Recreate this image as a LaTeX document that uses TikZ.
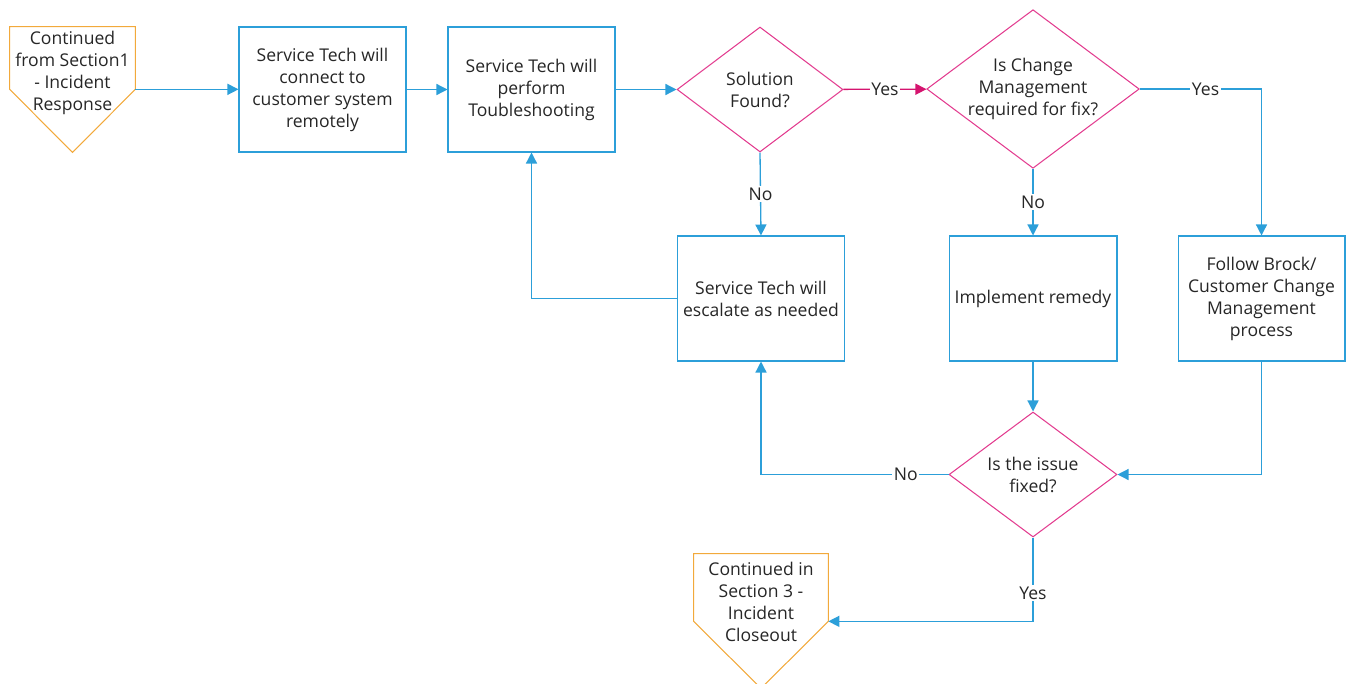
\documentclass[tikz,border=0pt]{standalone}
\usepackage{fontspec}
\setmainfont{Open Sans}
\usetikzlibrary{shapes.geometric,arrows.meta,calc}
\definecolor{cblue}{HTML}{2C9FD9}
\definecolor{cmag}{HTML}{E23C8F}
\definecolor{cmagd}{HTML}{D5146F}
\definecolor{corange}{HTML}{F2A93B}
\definecolor{ctext}{HTML}{262626}
\begin{document}
\begin{tikzpicture}[x=0.02cm,y=-0.02cm,
  font=\fontsize{10}{12.5}\selectfont, text=ctext,
  box/.style={draw=cblue, line width=0.6pt, minimum width=3.34cm, minimum height=2.5cm, align=center, inner sep=0pt},
  dia/.style={diamond, draw=cmag, line width=0.6pt, align=center, inner sep=0pt},
  conn/.style={draw=cblue, line width=0.75pt, -{Triangle[length=0.22cm,width=0.22cm]}},
  lbl/.style={fill=white, inner sep=1pt},
  pent/.style={minimum width=2.5cm, minimum height=1.24cm, inner sep=0pt},
  txt/.style={align=center, inner sep=0pt}]
\useasboundingbox (0,0) rectangle (1348,683);

% start pentagon
\node[pent] (p1) at (72.5,58) {};
\draw[corange, line width=0.6pt] (p1.north west) -- (p1.north east) -- (p1.south east)
  -- ($(p1.south)+(0,63)$) -- (p1.south west) -- cycle;
\node[txt] (p1t) at (72.5,73) {Continued\\from Section1\\- Incident\\Response};

\node[box] (b1) at (322.5,89.5) {Service Tech will\\connect to\\customer system\\remotely};
\node[box] (b2) at (531.5,89.5) {Service Tech will\\perform\\Toubleshooting};
\node[dia, minimum width=3.32cm, minimum height=2.5cm, aspect=1.33] (d1) at (760,89.5) {Solution\\Found?};
\node[dia, minimum width=4.24cm, minimum height=3.16cm, aspect=1.34] (d2) at (1033,89) {Is Change\\Management\\required for fix?};
\node[box] (esc) at (761,298.5) {Service Tech will\\escalate as needed};
\node[box, minimum width=3.36cm] (im) at (1033,298.5) {Implement remedy};
\node[box] (fb) at (1261.5,298.5) {Follow Brock/\\Customer Change\\Management\\process};
\node[dia, minimum width=3.36cm, minimum height=2.5cm, aspect=1.34] (d3) at (1033,474.5) {Is the issue\\fixed?};

% end pentagon
\node[pent, minimum width=2.68cm, minimum height=1.34cm] (p2) at (761,587.5) {};
\draw[corange, line width=0.6pt] (p2.north west) -- (p2.north east) -- (p2.south east)
  -- ($(p2.south)+(0,67)$) -- (p2.south west) -- cycle;
\node[txt] (p2t) at (761,602) {Continued in\\Section 3 -\\Incident\\Closeout};

% connectors
\draw[conn] (p1.south east) -- (p1.south east -| b1.west);
\draw[conn] (b1) -- (b2);
\draw[conn] (b2) -- (d1);
\draw[conn, draw=cmagd] (d1) -- node[lbl]{Yes} (d2);
\draw[conn] (d2.east) -| node[lbl, pos=0.27]{Yes} (fb.north);
\draw[conn] (d1.south) -- node[lbl]{No} (esc.north);
\draw[conn] (d2.south) -- node[lbl]{No} (im.north);
\draw[conn] (esc.west) -| (b2.south);
\draw[conn] (im) -- (d3);
\draw[conn] (fb.south) |- (d3.east);
\draw[conn] (d3.west) -| node[lbl, pos=0.114]{No} (esc.south);
\draw[conn] (d3.south) |- node[lbl, pos=0.33]{Yes} (p2.south east);
\end{tikzpicture}
\end{document}
